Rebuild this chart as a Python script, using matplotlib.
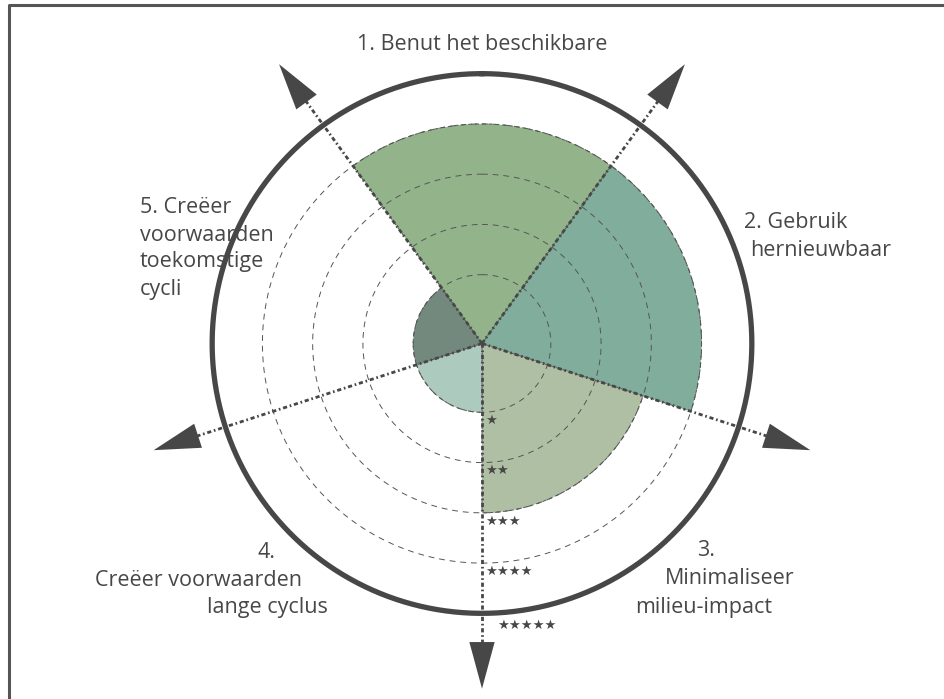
import numpy as np
import matplotlib
matplotlib.use('Agg')
from matplotlib import pyplot as plt
from matplotlib.lines import Line2D

# Data
labels = ['1. Benut het beschikbare', '2. Gebruik\nhernieuwbaar', '3.\nMinimaliseer\nmilieu-impact',
          '4.\nCreëer voorwaarden\nlange cyclus', '5. Creëer\nvoorwaarden\ntoekomstige\ncycli']
scores = [4, 4, 3, 1, 1]
colors = ['#93b48b', '#81ad9c', '#aebfa3', '#adcabe', '#73897e']
levels = [1, 2, 3, 4, 5]
star_labels = ['★' * k for k in levels]

ink = '#474747'
plt.rcParams['font.family'] = ['Open Sans', 'DejaVu Sans']

W, H = 944, 699
fig = plt.figure(figsize=(W / 100, H / 100), dpi=100)

# polar axes centred on (482, 343.5) px, 50.25 px per level
r_min, r_max = -0.37, 6.9
cx, cy = 482, H - 343.5
R = (r_max - r_min) * 50.25
ax = fig.add_axes([(cx - R) / W, (cy - R) / H, 2 * R / W, 2 * R / H], projection='polar')
ax.set_theta_zero_location('N')
ax.set_theta_direction(-1)
ax.set_ylim(r_min, r_max)
ax.set_axis_off()

n = len(scores)
width = 2 * np.pi / n
theta = np.arange(n) * width

# sectors
ax.bar(theta, np.array(scores) - r_min, width=width, bottom=r_min, color=colors,
       edgecolor='#555555', linewidth=0.7, linestyle=(0, (4, 3)), zorder=2, clip_on=False)

# dashed rings + outer circle
circ = np.linspace(0, 2 * np.pi, 400)
for k in levels[:-1]:
    ax.plot(circ, np.full_like(circ, k), color='#555555', lw=0.7,
            linestyle=(0, (6, 5)), zorder=3, clip_on=False)
ax.plot(circ, np.full_like(circ, levels[-1]), color=ink, lw=3.8, zorder=4, clip_on=False)

# axis lines with arrowheads
for t in theta + width / 2:
    ax.plot([t, t], [r_min, 5.6], color=ink, lw=2, linestyle=(0, (1.5, 1, 0.6, 1)),
            zorder=5, clip_on=False)
    ax.annotate('', xy=(t, 6.5), xytext=(t, 5.5),
                arrowprops=dict(arrowstyle='-|>,head_length=2.4,head_width=0.65',
                                mutation_scale=14, color=ink, lw=0,
                                shrinkA=0, shrinkB=0),
                annotation_clip=False, zorder=6)

# star labels along the bottom axis
for k, s in zip(levels, star_labels):
    off = (2, -6) if k < 5 else (11, -9)
    ax.annotate(s, xy=(np.pi, k), xytext=off, textcoords='offset points',
                ha='left', va='center', fontsize=9.5, color=ink,
                family=['DejaVu Sans'], zorder=7, annotation_clip=False)

# category labels (one line each, placed in pixels)
def put(txt, x, y, ha='left'):
    fig.text(x / W, 1 - y / H, txt, ha=ha, va='center', fontsize=15.5, color=ink)

l1 = labels[0]
put(l1, 482, 45, ha='center')
l2 = labels[1].split('\n')
put(l2[0], 744, 222)
put(l2[1], 750, 250)
l3 = labels[2].split('\n')
put(l3[0], 697, 550)
put(l3[1], 665, 578)
put(l3[2], 635, 607)
l4 = labels[3].split('\n')
put(l4[0], 258, 553)
put(l4[1], 302, 580, ha='right')
put(l4[2], 207, 608)
l5 = labels[4].split('\n')
for i, line in enumerate(l5):
    put(line, 140, 208 + 27 * i)

# open frame: top and left edges
fig.add_artist(Line2D([9 / W, 9 / W, 1], [0, 1 - 5 / H, 1 - 5 / H],
                      transform=fig.transFigure, color='#555555', lw=2.2))

fig.savefig('out.png', dpi=100)
